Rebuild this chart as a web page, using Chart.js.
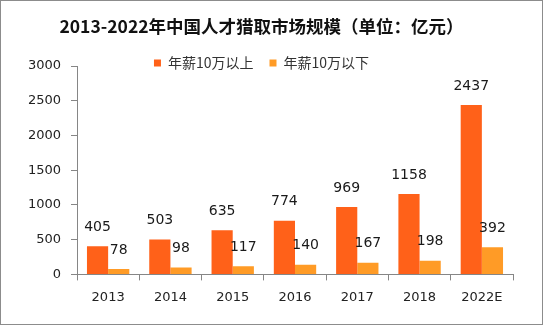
<!DOCTYPE html>
<html lang="zh">
<head>
<meta charset="UTF-8">
<title>2013-2022年中国人才猎取市场规模</title>
<script src="https://cdn.jsdelivr.net/npm/chart.js"></script>
<style>
  html, body { margin: 0; padding: 0; background: #fff; }
  #wrap { width: 543px; height: 325px; }
</style>
</head>
<body>
<div id="wrap"><canvas id="c" width="543" height="325"></canvas></div>
<script>
const years = ['2013', '2014', '2015', '2016', '2017', '2018', '2022E'];
const above10w = [405, 503, 635, 774, 969, 1158, 2437];
const below10w = [78, 98, 117, 140, 167, 198, 392];
const yTicks = [0, 500, 1000, 1500, 2000, 2500, 3000];

const CN = '"Noto Sans CJK SC", "DejaVu Sans", sans-serif';
const NUM = '"DejaVu Sans", "Noto Sans", sans-serif';
const LEGEND_CUT = 14;

// white background + thin grey frame
const framePlugin = {
  id: 'frame',
  beforeDraw(chart) {
    const ctx = chart.ctx;
    ctx.save();
    ctx.fillStyle = '#fff';
    ctx.fillRect(0, 0, chart.width, chart.height);
    ctx.strokeStyle = '#8c8c8c';
    ctx.lineWidth = 1;
    ctx.strokeRect(0.5, 0.5, chart.width - 1, chart.height - 1);
    ctx.restore();
  }
};

// legend sits on top of the plot, so shrink its box for layout only
const legendShrink = {
  id: 'legendShrink',
  beforeInit(chart) {
    const fit = chart.legend.fit;
    chart.legend.fit = function () {
      fit.bind(chart.legend)();
      this.height -= LEGEND_CUT;
    };
  },
  afterLayout(chart) {
    const lg = chart.legend;
    lg.height += LEGEND_CUT;
    lg.bottom += LEGEND_CUT;
  }
};

// value labels over bars
const valueLabels = {
  id: 'valueLabels',
  afterDatasetsDraw(chart) {
    const ctx = chart.ctx;
    ctx.save();
    ctx.font = '14px ' + NUM;
    ctx.fillStyle = '#1a1a1a';
    ctx.textAlign = 'center';
    ctx.textBaseline = 'middle';
    chart.data.datasets.forEach((ds, i) => {
      chart.getDatasetMeta(i).data.forEach((bar, j) => {
        ctx.fillText(String(ds.data[j]), bar.x, bar.y - 19);
      });
    });
    ctx.restore();
  }
};

new Chart(document.getElementById('c'), {
  type: 'bar',
  data: {
    labels: years,
    datasets: [
      { label: '年薪10万以上', data: above10w, backgroundColor: '#ff6119' },
      { label: '年薪10万以下', data: below10w, backgroundColor: '#ff9b26' }
    ]
  },
  options: {
    responsive: false,
    animation: false,
    devicePixelRatio: 1,
    categoryPercentage: 0.68,
    barPercentage: 1.0,
    layout: { padding: { left: 10, right: 30, top: 4, bottom: 11 } },
    plugins: {
      title: {
        display: true,
        text: '2013-2022年中国人才猎取市场规模（单位：亿元）',
        color: '#111',
        font: { family: CN, size: 17.5, weight: 'bold' },
        padding: { top: 12, bottom: 3 }
      },
      legend: {
        display: true,
        position: 'top',
        labels: {
          boxWidth: 7,
          boxHeight: 7,
          color: '#333',
          font: { family: CN, size: 14 },
          padding: 16
        }
      },
      tooltip: { enabled: false }
    },
    scales: {
      x: {
        grid: {
          display: true,
          offset: true,
          drawOnChartArea: false,
          tickLength: 6,
          color: '#868686'
        },
        border: { color: '#868686' },
        ticks: { color: '#222', font: { family: NUM, size: 13 }, padding: 9 }
      },
      y: {
        min: 0,
        max: 3000,
        afterBuildTicks(scale) { scale.ticks = yTicks.map(v => ({ value: v })); },
        afterFit(scale) { scale.width = 67; },
        grid: {
          display: true,
          drawOnChartArea: false,
          tickLength: 6,
          color: '#868686'
        },
        border: { color: '#868686' },
        ticks: {
          color: '#222',
          font: { family: NUM, size: 13 },
          padding: 10,
          callback: v => String(v)
        }
      }
    }
  },
  plugins: [framePlugin, legendShrink, valueLabels]
});
</script>
</body>
</html>
